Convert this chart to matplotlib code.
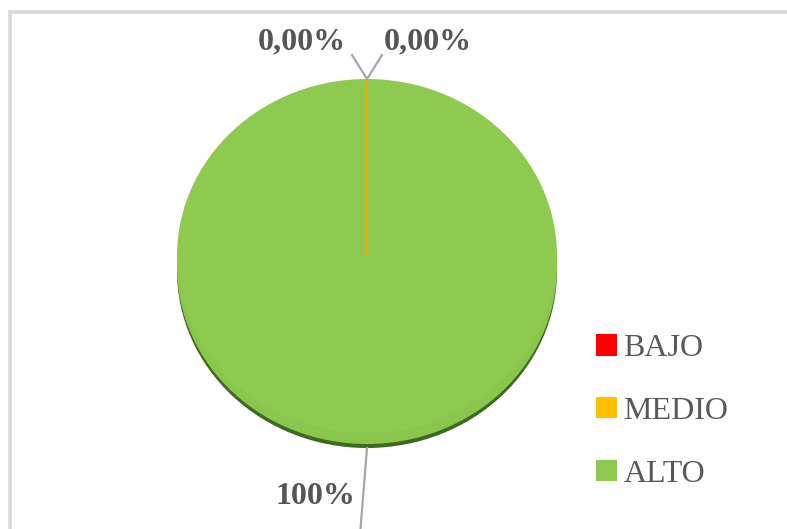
import matplotlib.pyplot as plt
from matplotlib.patches import Ellipse, Rectangle, Patch

categories = ['BAJO', 'MEDIO', 'ALTO']
values = [0.0, 0.0, 100.0]
colors = ['#ff0000', '#ffc000', '#8fca50']

W, H = 787, 529
fig = plt.figure(figsize=(W / 100, H / 100), dpi=100)
fig.patch.set_facecolor('white')

# light gray frame (only top/left visible in the crop)
fig.add_artist(Rectangle((10 / W, -0.1), 1.2, 1 - 12 / H + 0.1, transform=fig.transFigure,
                         fill=False, edgecolor='#d9d9d9', linewidth=2.6))

# pie centre and radii in pixels
cx, cy, rx, ry = 367, 256, 190, 177
ax = fig.add_axes([(cx - rx) / W, 1 - (cy + ry) / H, 2 * rx / W, 2 * ry / H])


def px(x, y):
    return ((x - cx) / rx, (cy - y) / ry)


# 3D side of the pie
ax.add_patch(Ellipse((0, -15 / ry), 2, 2, facecolor='#3d6a1d', edgecolor='none', zorder=0, clip_on=False))
ax.add_patch(Ellipse((0, -11 / ry), 2, 2, facecolor='#8ac64d', edgecolor='none', zorder=0, clip_on=False))

wedges, _ = ax.pie(values, colors=colors, startangle=90, counterclock=False, radius=1,
                   wedgeprops=dict(linewidth=1.2))
for w, c in zip(wedges, colors):
    w.set_edgecolor(c)
    w.set_zorder(2)
wedges[2].set_edgecolor('none')
wedges[2].set_zorder(1)
ax.set_aspect('auto')
ax.set_xlim(-1, 1)
ax.set_ylim(-1, 1)
ax.axis('off')


def fmt(v):
    return '100%' if v == 100 else f'{v:.2f}%'.replace('.', ',')


lbl = dict(fontsize=23, fontweight='bold', color='#555555', family='Liberation Serif',
           ha='center', va='center')
line = dict(color='#a6a6a6', linewidth=1.6, clip_on=False)

top = px(367, 79)
for v, tip, pos in [(values[0], px(352, 55), px(302, 42)), (values[1], px(382, 55), px(428, 42))]:
    ax.plot([top[0], tip[0]], [top[1], tip[1]], **line)
    ax.text(pos[0], pos[1], fmt(v), **lbl)

b0, b1 = px(367, 448), px(360, 535)
ax.plot([b0[0], b1[0]], [b0[1], b1[1]], **line)
p = px(315, 496)
ax.text(p[0], p[1], fmt(values[2]), **lbl)

handles = [Patch(facecolor=c, edgecolor='none', label=n) for n, c in zip(categories, colors)]
fig.legend(handles=handles, loc='upper left', bbox_to_anchor=(596 / W, 1 - 334 / H),
           frameon=False, borderpad=0, borderaxespad=0, handlelength=0.66, handleheight=0.66,
           handletextpad=0.2, labelspacing=1.06,
           prop={'family': 'Liberation Serif', 'size': 23}, labelcolor='#595959')

fig.savefig('out.png', dpi=100)
